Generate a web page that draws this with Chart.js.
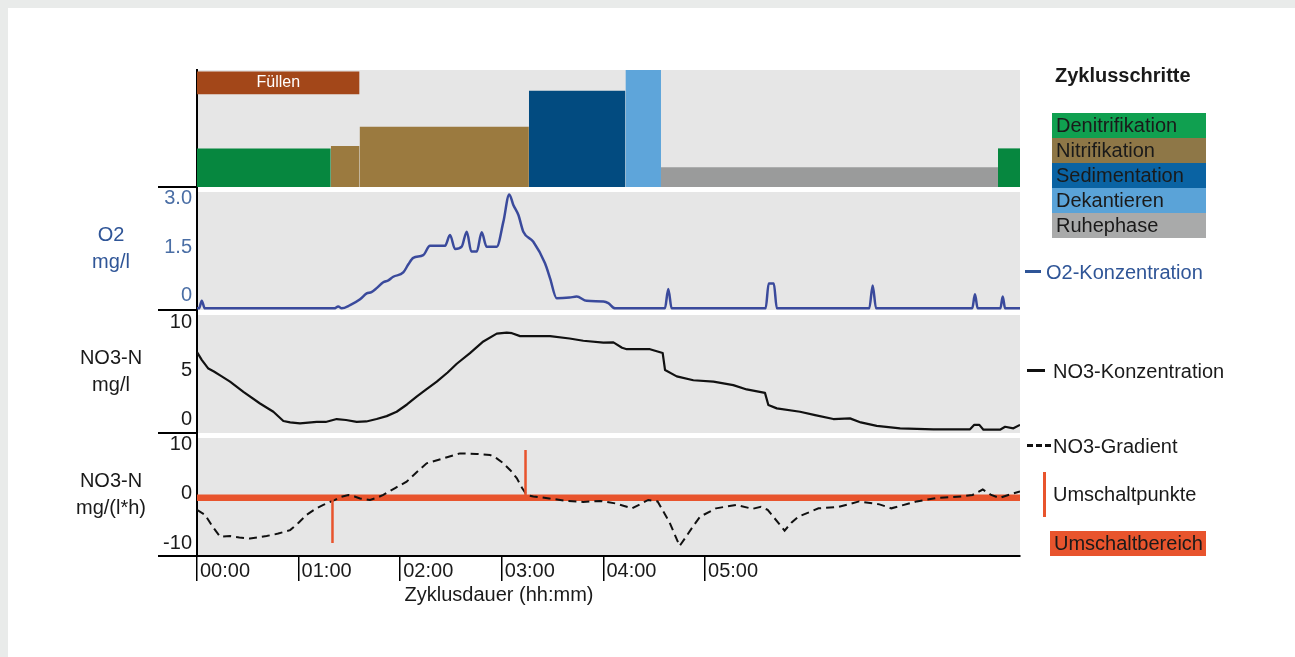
<!DOCTYPE html>
<html lang="de">
<head>
<meta charset="utf-8">
<title>Zyklusschritte</title>
<script src="https://cdn.jsdelivr.net/npm/chart.js@4.4.1/dist/chart.umd.min.js"></script>
<style>
  html, body { margin: 0; padding: 0; }
  body {
    width: 1295px; height: 657px; position: relative; overflow: hidden;
    background: #e9ebea;
    font-family: "Liberation Sans", Arial, sans-serif;
    color: #1a1a1a;
  }
  #karte { position: absolute; left: 8px; top: 8px; right: 0; bottom: 0; background: #fff; }
  #diagramm { position: absolute; left: 0; top: 0; }
  .txt { position: absolute; font-size: 20px; line-height: 22px; white-space: nowrap; }
  .box { position: absolute; width: 150px; height: 25px; line-height: 25px; padding-left: 4px; font-size: 20px; white-space: nowrap; }
  .strich { position: absolute; }
</style>
</head>
<body>
<div id="karte"></div>
<canvas id="diagramm" width="1295" height="657"></canvas>
<div id="legende"></div>

<script>
// Zeitachse in Minuten
const hourTicks = [0, 60, 120, 180, 240, 300];
const hourLabels = ['00:00', '01:00', '02:00', '03:00', '04:00', '05:00'];

// Zyklusschritte (Balken oben)
const stepNames = ['Füllen', 'Denitrifikation', 'Nitrifikation', 'Nitrifikation', 'Sedimentation', 'Dekantieren', 'Ruhephase', 'Denitrifikation'];
const stepStart = [0, 0, 79, 96, 196, 253, 274, 473];
const stepEnd = [96, 79, 96, 196, 253, 274, 473, 486];
const stepBase = [4.76, 0, 0, 0, 0, 0, 0, 0];
const stepTop = [5.92, 1.98, 2.1, 3.09, 4.94, 6.0, 1.01, 1.98];

const legendSteps = ['Denitrifikation', 'Nitrifikation', 'Sedimentation', 'Dekantieren', 'Ruhephase'];

// O2-Konzentration
const o2Times = [0, 1.2, 2.8, 4.6, 81, 83.4, 85.4, 90.4, 96.3, 100.2, 103, 106.1, 110, 113, 115.9, 121.8, 124.8, 127.7, 133.6, 137.6,
  146.5, 149.4, 152.4, 156.3, 159.3, 162, 165.2, 168.1, 171, 177, 180.9, 184.4, 186.8, 189.8, 192.7, 198.6, 205.5, 208.5, 212.4,
  220, 224.2, 230.1, 240, 242.9, 246.9, 276.3, 278.3, 280.3, 335.8, 337.6, 340.6, 342.4, 397, 399, 401, 457.8, 459.4, 461,
  474.4, 475.8, 477.2, 486];
const o2Values = [-0.38, -0.38, -0.15, -0.38, -0.38, -0.32, -0.38, -0.28, -0.1, 0.08, 0.12, 0.24, 0.42, 0.48, 0.59, 0.72, 0.97, 1.17, 1.25, 1.54,
  1.54, 1.87, 1.44, 1.51, 1.97, 1.36, 1.36, 1.95, 1.51, 1.51, 2.27, 3.11, 2.79, 2.48, 1.97, 1.66, 1.0, 0.54, -0.07,
  -0.05, -0.02, -0.15, -0.17, -0.22, -0.38, -0.38, 0.21, -0.38, -0.38, 0.38, 0.38, -0.38, -0.38, 0.32, -0.38, -0.38, 0.05, -0.38,
  -0.38, -0.02, -0.38, -0.38];
const o2Ticks = [0, 1.5, 3];
const o2TickLabels = ['0', '1.5', '3.0'];

// NO3-Konzentration
const no3Times = [0, 2.8, 6.7, 10, 14.6, 19.5, 27.4, 37.2, 45.1, 51, 55, 60.8, 70.7, 76, 82.5, 88, 94.3, 100, 106.1, 112, 117.9,
  124, 129.7, 135, 141.6, 148, 153.4, 161.2, 169.1, 177, 182.9, 186, 190.8, 208.5, 220, 228.1, 240, 245.9, 251, 253.8, 267.5,
  275, 276.4, 283.3, 293.1, 305, 316.7, 324.6, 335.4, 337.4, 342.4, 356.1, 365, 375.8, 385.6, 392, 401.4, 415.2, 434.9, 456.5,
  459, 462, 464.4, 474.2, 477.2, 482.1, 486];
const no3Values = [6.9, 6.1, 5.2, 4.9, 4.4, 3.85, 2.8, 1.6, 0.75, -0.2, -0.35, -0.45, -0.3, -0.3, 0, -0.1, -0.3, -0.25, 0, 0.3, 0.75,
  1.5, 2.3, 3.0, 3.85, 4.8, 5.7, 6.8, 8.0, 8.8, 8.9, 8.85, 8.55, 8.55, 8.3, 8.07, 7.87, 7.9, 7.35, 7.2, 7.2,
  6.8, 5.05, 4.4, 4.0, 3.85, 3.5, 3.05, 2.7, 1.45, 1.1, 0.75, 0.4, 0, 0.07, -0.35, -0.7, -0.96, -1.06, -1.06,
  -0.6, -0.6, -1.1, -1.1, -0.8, -0.96, -0.6];
const no3Ticks = [0, 5, 10];
const no3TickLabels = ['0', '5', '10'];

// NO3-Gradient
const gradTimes = [0, 4.7, 9, 13.6, 19.5, 25, 31.3, 41.1, 48, 55, 60, 64.8, 70, 74.6, 81.5, 85, 89.4, 93, 96.3, 102.2, 106, 110,
  117, 123.8, 130, 135.6, 145.5, 155.3, 165, 173, 177, 180.9, 185, 188.8, 192, 194.7, 198.6, 208, 218.3, 228, 238, 247, 257,
  266.5, 272, 279, 285, 288.5, 293, 297, 306.5, 318.5, 328, 333, 337, 347, 351, 355, 367, 379, 391, 403, 410, 425, 437, 451.5,
  458, 464, 469, 474, 480, 486];
const gradValues = [-3.2, -4.2, -6.5, -8.6, -8.5, -8.8, -9.0, -8.5, -8.0, -7.3, -5.8, -4.2, -3.0, -2.2, -1.2, -0.6, -0.2, -0.5, -0.9, -1.2, -0.8, -0.2,
  1.2, 2.5, 4.5, 6.2, 7.2, 8.2, 8.1, 7.9, 7.2, 6.2, 4.8, 3.2, 1.2, -0.2, -0.5, -0.9, -1.4, -1.6, -1.4, -1.9, -2.9,
  -1.2, -1.5, -5.7, -10.5, -8.8, -6.5, -4.6, -2.9, -2.2, -3.0, -2.6, -3.2, -7.4, -5.8, -4.6, -2.9, -2.6, -1.5, -2.1, -2.9, -1.5, -0.8, -0.5,
  -0.2, 0.9, -0.2, -0.8, -0.1, 0.5];
const gradTicks = [-10, 0, 10];
const gradTickLabels = ['-10', '0', '10'];

// Umschaltpunkte und Umschaltbereich
const switchTimes = [80, 194];
const switchFrom = [-0.8, 8.9];
const switchTo = [-9.9, -0.2];
const bandUpper = -0.1;
const bandLower = -1.4;

// Farben
const stepColors = {
  'Füllen': '#a34719',
  'Denitrifikation': '#06873f',
  'Nitrifikation': '#9b7a3f',
  'Sedimentation': '#024b80',
  'Dekantieren': '#5ea5da',
  'Ruhephase': '#9a9b9b'
};
const legendColors = {
  'Denitrifikation': '#10a050',
  'Nitrifikation': '#8e7747',
  'Sedimentation': '#0a63a3',
  'Dekantieren': '#5aa3d8',
  'Ruhephase': '#a9aaaa'
};
const o2Color = '#3a4a9c';
const o2TextColor = '#2f5597';
const redColor = '#e8542d';
const panelGrey = '#e6e6e6';
const schrift = '"Liberation Sans", Arial, sans-serif';

function punkte(times, values) {
  return times.map((t, i) => ({ x: t, y: values[i] }));
}

const datasets = [];

// Zyklusschritte als gefuellte Rechtecke
stepNames.forEach((name, i) => {
  datasets.push({
    label: name,
    data: [{ x: stepStart[i], y: stepTop[i] }, { x: stepEnd[i], y: stepTop[i] }],
    yAxisID: 'yC',
    fill: { value: stepBase[i] },
    backgroundColor: stepColors[name],
    borderColor: 'rgba(0,0,0,0)',
    borderWidth: 0,
    pointRadius: 0,
    order: 10
  });
});

datasets.push({
  label: 'Umschaltbereich',
  data: [{ x: 0, y: bandUpper }, { x: 486, y: bandUpper }],
  yAxisID: 'yG',
  fill: { value: bandLower },
  backgroundColor: redColor,
  borderColor: 'rgba(0,0,0,0)',
  borderWidth: 0,
  pointRadius: 0,
  order: 9
});

datasets.push({
  label: 'O2-Konzentration',
  data: punkte(o2Times, o2Values),
  yAxisID: 'yO',
  borderColor: o2Color,
  borderWidth: 2.5,
  borderJoinStyle: 'round',
  cubicInterpolationMode: 'monotone',
  pointRadius: 0,
  fill: false,
  order: 2
});

datasets.push({
  label: 'NO3-Konzentration',
  data: punkte(no3Times, no3Values),
  yAxisID: 'yN',
  borderColor: '#111',
  borderWidth: 2.2,
  borderJoinStyle: 'round',
  pointRadius: 0,
  fill: false,
  order: 2
});

datasets.push({
  label: 'NO3-Gradient',
  data: punkte(gradTimes, gradValues),
  yAxisID: 'yG',
  borderColor: '#111',
  borderWidth: 2,
  borderDash: [8, 5],
  pointRadius: 0,
  fill: false,
  order: 2
});

switchTimes.forEach((t, i) => {
  datasets.push({
    label: 'Umschaltpunkte',
    data: [{ x: t, y: switchFrom[i] }, { x: t, y: switchTo[i] }],
    yAxisID: 'yG',
    borderColor: redColor,
    borderWidth: 2.5,
    pointRadius: 0,
    fill: false,
    order: 1
  });
});

// Y-Achse mit festen Ticks
function yAchse(weight, stackWeight, min, max, tickValues, tickLabels, farbe) {
  return {
    type: 'linear',
    position: 'left',
    stack: 'panels',
    stackWeight: stackWeight,
    weight: weight,
    min: min,
    max: max,
    grid: { display: false, drawTicks: false },
    border: { display: true, color: '#000', width: 2 },
    afterFit: (s) => { s.width = 197; },
    afterBuildTicks: (s) => { s.ticks = tickValues.map(v => ({ value: v })); },
    ticks: {
      display: tickValues.length > 0,
      padding: 5,
      color: farbe,
      font: { family: schrift, size: 20 },
      callback: (v, i) => tickLabels[i]
    }
  };
}

// Hintergrundflaechen, Trennlinien und Beschriftungen
const panelPlugin = {
  id: 'panels',
  beforeDraw(chart) {
    const { ctx, chartArea, scales } = chart;
    ctx.save();
    ctx.fillStyle = panelGrey;
    ['yC', 'yO', 'yN', 'yG'].forEach((id, i) => {
      const s = scales[id];
      const gap = i === 0 ? 0 : 5;
      ctx.fillRect(chartArea.left, s.top + gap, chartArea.right - chartArea.left, s.bottom - s.top - gap);
    });
    ctx.restore();
  },
  afterDraw(chart) {
    const { ctx, chartArea, scales } = chart;
    ctx.save();
    // kurze Trennlinien links
    ctx.strokeStyle = '#000';
    ctx.lineWidth = 2;
    ['yC', 'yO', 'yN', 'yG'].forEach(id => {
      const y = Math.round(scales[id].bottom);
      ctx.beginPath();
      ctx.moveTo(158, y);
      ctx.lineTo(chartArea.left, y);
      ctx.stroke();
    });

    // Achsentitel links
    ctx.textAlign = 'center';
    ctx.textBaseline = 'middle';
    ctx.font = '20px ' + schrift;
    const titel = [
      ['yO', ['O2', 'mg/l'], o2TextColor],
      ['yN', ['NO3-N', 'mg/l'], '#1a1a1a'],
      ['yG', ['NO3-N', 'mg/(l*h)'], '#1a1a1a']
    ];
    titel.forEach(([id, zeilen, farbe]) => {
      const s = scales[id];
      const mitte = (s.top + s.bottom) / 2;
      ctx.fillStyle = farbe;
      ctx.fillText(zeilen[0], 111, mitte - 13);
      ctx.fillText(zeilen[1], 111, mitte + 14);
    });

    // Füllen-Beschriftung
    const x = scales.x, yC = scales.yC;
    ctx.fillStyle = '#fff';
    ctx.font = '16px ' + schrift;
    ctx.fillText(stepNames[0], x.getPixelForValue((stepStart[0] + stepEnd[0]) / 2),
      yC.getPixelForValue((stepBase[0] + stepTop[0]) / 2));

    // Titel der Zeitachse
    ctx.fillStyle = '#1a1a1a';
    ctx.font = '20px ' + schrift;
    ctx.fillText('Zyklusdauer (hh:mm)', 499, 595);
    ctx.restore();
  }
};

const config = {
  type: 'line',
  data: { datasets: datasets },
  options: {
    responsive: false,
    maintainAspectRatio: false,
    animation: false,
    layout: { padding: { left: 0, top: 70, right: 275, bottom: 0 }, autoPadding: false },
    plugins: {
      legend: { display: false },
      tooltip: { enabled: false }
    },
    elements: { line: { tension: 0 } },
    scales: {
      x: {
        type: 'linear',
        position: 'bottom',
        min: 0,
        max: 486,
        afterFit: (s) => { s.height = 101; },
        afterBuildTicks: (s) => { s.ticks = hourTicks.map(v => ({ value: v })); },
        grid: { display: true, drawOnChartArea: false, drawTicks: true, tickLength: 25, color: '#000', lineWidth: 1.5 },
        border: { display: true, color: '#000', width: 2 },
        ticks: {
          align: 'start',
          labelOffset: 3,
          padding: -22,
          maxRotation: 0,
          autoSkip: false,
          color: '#1a1a1a',
          font: { family: schrift, size: 20 },
          callback: (v, i) => hourLabels[i]
        }
      },
      yC: yAchse(4, 117, 0, 6, [], [], '#000'),
      yO: yAchse(3, 123, -0.43, 3.34, o2Ticks, o2TickLabels, '#4a6ea5'),
      yN: yAchse(2, 123, -1.44, 11.24, no3Ticks, no3TickLabels, '#1a1a1a'),
      yG: yAchse(1, 123, -12.53, 12.32, gradTicks, gradTickLabels, '#1a1a1a')
    }
  },
  plugins: [panelPlugin]
};

const myChart = new Chart(document.getElementById('diagramm'), config);

// Legenden als HTML
const legende = document.getElementById('legende');
function element(cls, stil, text) {
  const d = document.createElement('div');
  d.className = cls;
  Object.assign(d.style, stil);
  if (text) d.textContent = text;
  legende.appendChild(d);
  return d;
}

element('txt', { left: '1055px', top: '64px', fontWeight: 'bold' }, 'Zyklusschritte');
legendSteps.forEach((name, i) => {
  element('box', { left: '1052px', top: (113 + i * 25) + 'px', background: legendColors[name] }, name);
});

element('strich', { left: '1025px', top: '270px', width: '16px', height: '3px', background: o2TextColor });
element('txt', { left: '1046px', top: '261px', color: o2TextColor }, 'O2-Konzentration');

element('strich', { left: '1027px', top: '369px', width: '18px', height: '3px', background: '#111' });
element('txt', { left: '1053px', top: '360px' }, 'NO3-Konzentration');

element('strich', { left: '1027px', top: '444px', width: '24px', height: '3px',
  background: 'repeating-linear-gradient(90deg, #111 0 6px, transparent 6px 9px)' });
element('txt', { left: '1053px', top: '435px' }, 'NO3-Gradient');

element('strich', { left: '1043px', top: '472px', width: '2.5px', height: '45px', background: redColor });
element('txt', { left: '1053px', top: '483px' }, 'Umschaltpunkte');

element('box', { left: '1050px', top: '531px', width: '152px', background: redColor }, 'Umschaltbereich');
</script>
</body>
</html>
